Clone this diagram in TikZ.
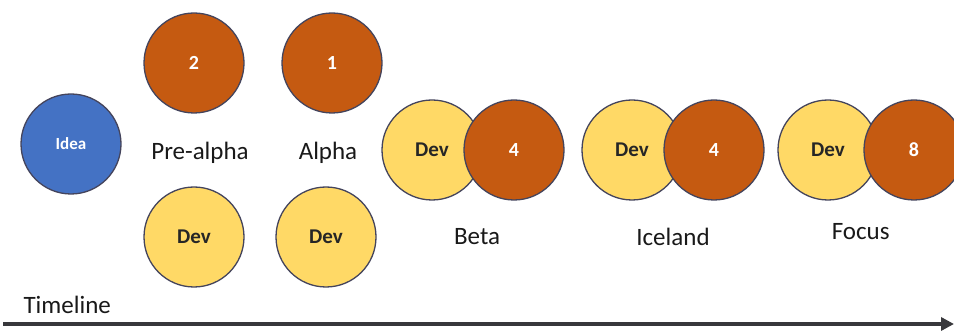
\documentclass[tikz,border=0pt]{standalone}
\usepackage{fontspec}
\setmainfont{Carlito}
\usetikzlibrary{arrows.meta,positioning,calc}
\definecolor{ideablue}{RGB}{68,114,196}
\definecolor{rustorange}{RGB}{197,90,17}
\definecolor{devyellow}{RGB}{255,217,102}
\definecolor{rimgray}{RGB}{68,68,92}
\definecolor{axisgray}{RGB}{56,56,60}

\tikzset{
    ball/.style={draw=rimgray, line width=1.3pt, circle, minimum size=100pt, inner sep=0pt},
    devball/.style={ball, fill=devyellow, font=\bfseries\fontsize{21}{21}\selectfont, text=black!85},
    numball/.style={ball, fill=rustorange, font=\bfseries\fontsize{20}{20}\selectfont, text=white},
    phase/.style={font=\fontsize{25}{25}\selectfont, text=black!90}
}

\begin{document}
\begin{tikzpicture}[x=1pt, y=-1pt]
    \useasboundingbox (0,0) rectangle (954,331);

    \node[ball, fill=ideablue, text=white, font=\bfseries\fontsize{17}{17}\selectfont] (idea) at (71,144) {Idea};

    % pre-alpha and alpha: team on top, dev below
    \node[numball] (pre) at (194,63) {2};
    \node[devball] (predev) at (194,237) {Dev};
    \node[phase] (prelbl) at (200,153) {Pre-alpha};

    \node[numball] (alpha) at (332,63) {1};
    \node[devball] (alphadev) at (326,237) {Dev};
    \node[phase] (alphalbl) at (328,153) {Alpha};

    % later phases: dev and team side by side
    \node[devball] (betadev) at (432,150) {Dev};
    \node[numball] (beta) at (514,150) {4};
    \node[phase, below=24pt of $(betadev.south)!0.55!(beta.south)$] (betalbl) {Beta};

    \node[devball] (icedev) at (632,150) {Dev};
    \node[numball] (ice) at (714,150) {4};
    \node[phase, below=24pt of $(icedev.south)!0.5!(ice.south)$] (icelbl) {Iceland};

    \node[devball] (focusdev) at (828,150) {Dev};
    \node[numball] (focus) at (914,150) {8};
    \node[phase, below=19pt of $(focusdev.south)!0.38!(focus.south)$] (focuslbl) {Focus};

    % timeline
    \node[phase, anchor=west] (timelbl) at (20,305) {Timeline};
    \coordinate (tstart) at (3,324);
    \coordinate (tend) at (954,324);
    \draw[axisgray, line width=4.5pt, -{Triangle[length=13pt,width=13pt]}] (tstart) -- (tend);
\end{tikzpicture}
\end{document}
